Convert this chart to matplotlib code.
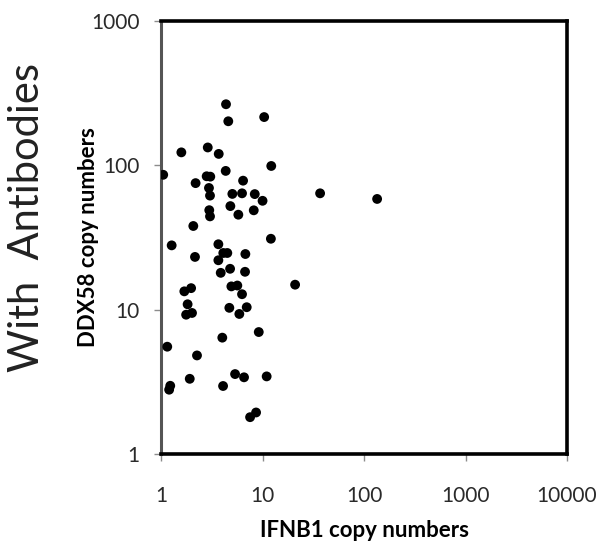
import matplotlib
matplotlib.use("Agg")
import matplotlib.pyplot as plt
from matplotlib.ticker import FixedLocator, NullLocator

# IFNB1 vs DDX58 copy numbers
ifnb1 = [4.33, 4.56, 10.3, 1.57, 2.86, 3.67, 1.04, 4.30, 12.1, 2.17,
         2.79, 3.03, 2.94, 3.01, 6.38, 5.00, 6.23, 8.32, 9.93, 4.78,
         8.13, 2.96, 3.01, 5.73, 2.06, 1.26, 3.64, 12.0, 2.14, 4.07,
         4.46, 6.72, 3.64, 4.75, 3.84, 6.67, 1.68, 1.96, 4.89, 5.60,
         6.23, 1.81, 1.75, 2.00, 4.67, 6.93, 5.86, 9.11, 3.98, 1.14,
         2.24, 5.32, 6.52, 10.9, 1.90, 1.22, 1.19, 4.05, 8.57, 7.48,
         20.8, 36.7, 134]
ddx58 = [265, 202, 216, 123, 133, 120, 86, 91.5, 99, 75.3,
         84, 83.5, 69.7, 61.7, 78.3, 63.4, 64, 63.2, 56.8, 52.2,
         48.8, 48.9, 44.3, 45.5, 38.0, 27.9, 28.4, 31.0, 23.2, 24.7,
         24.7, 24.3, 22.0, 19.2, 18.0, 18.3, 13.4, 14.1, 14.5, 14.7,
         12.8, 10.9, 9.23, 9.49, 10.3, 10.4, 9.34, 7.0, 6.40, 5.54,
         4.82, 3.58, 3.40, 3.45, 3.32, 2.97, 2.79, 2.96, 1.94, 1.80,
         14.9, 64, 58.5]

x_ticks = [1, 10, 100, 1000, 10000]
y_ticks = [1, 10, 100, 1000]

plt.rcParams['font.family'] = ['Lato', 'DejaVu Sans']

fig = plt.figure(figsize=(6.01, 5.44), dpi=100)
ax = fig.add_axes([0.2687, 0.1654, 0.6747, 0.796])

ax.scatter(ifnb1, ddx58, s=50, color='black', edgecolors='none', zorder=3)

ax.set_xscale('log')
ax.set_yscale('log')
ax.set_xlim(1, 10000)
ax.set_ylim(1, 1000)
ax.xaxis.set_major_locator(FixedLocator(x_ticks))
ax.yaxis.set_major_locator(FixedLocator(y_ticks))
ax.xaxis.set_minor_locator(NullLocator())
ax.yaxis.set_minor_locator(NullLocator())
ax.set_xticklabels([str(v) for v in x_ticks])
ax.set_yticklabels([str(v) for v in y_ticks])

ax.tick_params(axis='both', length=5, width=1, color='#8c8c8c',
               labelsize=15, labelcolor='#2a2a2a')
ax.tick_params(axis='x', pad=18)
ax.tick_params(axis='y', pad=11)

for side in ['top', 'right', 'bottom']:
    ax.spines[side].set_linewidth(2.6)
    ax.spines[side].set_color('black')
ax.spines['left'].set_linewidth(2.2)
ax.spines['left'].set_color('#555555')

ax.set_xlabel('IFNB1 copy numbers', fontsize=16, fontweight='bold', labelpad=10)
ax.set_ylabel('DDX58 copy numbers', fontsize=16, fontweight='bold')
ax.yaxis.set_label_coords(-0.155, 0.5)

fig.text(0.045, 0.60, 'With  Antibodies', rotation=90, fontsize=30,
         fontweight='normal', ha='center', va='center', color='#222222')

fig.savefig('out.png', dpi=100)
